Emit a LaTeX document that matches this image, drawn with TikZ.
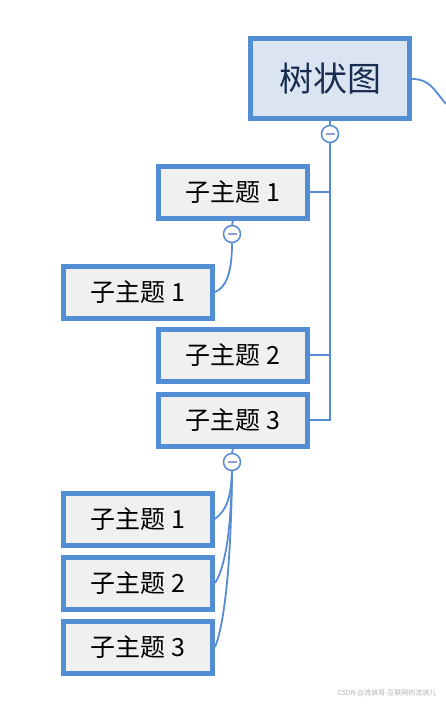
\documentclass[tikz,border=0pt]{standalone}
\usepackage{fontspec}
\newfontfamily\cjk{Noto Sans CJK SC}
\usetikzlibrary{positioning,calc}
\definecolor{mBorder}{RGB}{83,141,212}
\definecolor{mLine}{RGB}{88,140,210}
\definecolor{mRootFill}{RGB}{219,229,242}
\definecolor{mSubFill}{RGB}{240,240,240}
\definecolor{mRootText}{RGB}{25,45,80}
\definecolor{mMinus}{RGB}{145,158,205}
\definecolor{mMark}{RGB}{175,175,175}

\begin{document}
\begin{tikzpicture}[x=1pt,y=-1pt,
    rootbox/.style={draw=mBorder, line width=5pt, fill=mRootFill, minimum width=159pt, minimum height=80pt, font=\cjk\fontsize{34}{38}\selectfont, text=mRootText},
    subbox/.style={draw=mBorder, line width=5pt, fill=mSubFill, minimum width=149pt, minimum height=52pt, font=\cjk\fontsize{25}{28}\selectfont, text=black},
    fold/.style={circle, draw=mLine, line width=1.5pt, fill=white, minimum size=17pt, inner sep=0pt,
      path picture={\draw[mMinus, line width=1.6pt] ([xshift=-4.5pt]path picture bounding box.center) -- ([xshift=4.5pt]path picture bounding box.center);}},
    link/.style={draw=mLine, line width=1.8pt}]
    \useasboundingbox (0,0) rectangle (446,706);
    % Root
    \node[rootbox] (root) at (330,79) {树状图};
    \node[fold] (rootfold) at (330,134) {};
    \coordinate (offright) at (446,104);
    % Main topics
    \node[subbox] (sub1) at (233,192) {子主题 1};
    \node[subbox] (sub2) at (233,355) {子主题 2};
    \node[subbox] (sub3) at (233,420) {子主题 3};
    \node[fold] (subfold1) at (232,234) {};
    \node[fold] (subfold3) at (232,462) {};
    % Sub topics
    \node[subbox] (leaf1) at (138,292) {子主题 1};
    \node[subbox] (leaf2) at (138,519) {子主题 1};
    \node[subbox] (leaf3) at (138,583) {子主题 2};
    \node[subbox] (leaf4) at (138,647) {子主题 3};
    % Connectors
    \draw[link] (root.east) .. controls +(18,0) and +(-12,-14) .. (offright);
    \draw[link] (root.south) -- (rootfold.north);
    \draw[link] (rootfold.south) |- (sub1.east);
    \draw[link] (rootfold.south) |- (sub2.east);
    \draw[link] (rootfold.south) |- (sub3.east);
    \draw[link] (sub1.south) -- (subfold1.north);
    \draw[link] (sub3.south) -- (subfold3.north);
    \draw[link] (subfold1.south) .. controls +(0,32) and +(10,-4) .. (leaf1.east);
    \draw[link] (subfold3.south) .. controls +(-1,30) and +(10,-8) .. (leaf2.east);
    \draw[link] (subfold3.south) .. controls +(-1,70) and +(8,-12) .. (leaf3.east);
    \draw[link] (subfold3.south) .. controls +(-1,110) and +(7,-16) .. (leaf4.east);
    % Watermark
    \node[font=\cjk\fontsize{7}{8}\selectfont, text=mMark, anchor=east] (mark) at (440,693) {CSDN @流浪哥-互联网的流浪儿};
\end{tikzpicture}
\end{document}
